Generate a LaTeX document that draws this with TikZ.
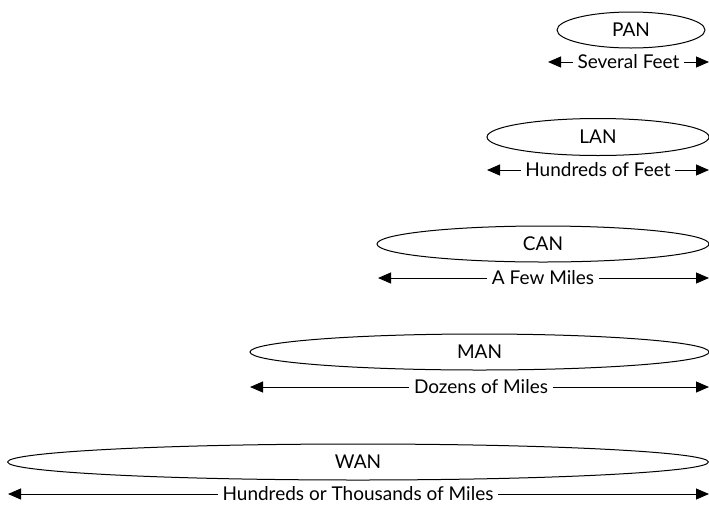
\documentclass[tikz,border=0pt]{standalone}
\usepackage{fontspec}
\setmainfont{Lato}
\usetikzlibrary{shapes.geometric,arrows.meta}
\begin{document}
\begin{tikzpicture}[x=1pt,y=-1pt,
  net/.style={draw,ellipse,line width=1pt,inner sep=0pt,font=\fontsize{19}{22}\selectfont},
  span/.style={inner xsep=4.5pt,inner ysep=2pt,font=\fontsize{19}{22}\selectfont},
  rng/.style={line width=1pt,-{Triangle[length=13pt,width=11pt]}}]
\useasboundingbox (0,0) rectangle (709,504);
% PAN
\node[net,minimum width=148,minimum height=36] (pan) at (631,30) {PAN};
\coordinate (panL) at (548,62); \coordinate (panR) at (709,62);
\node[span] (pant) at (628.5,62) {Several Feet};
\draw[rng] (pant) -- (panL); \draw[rng] (pant) -- (panR);
% LAN
\node[net,minimum width=222,minimum height=37] (lan) at (598,137) {LAN};
\coordinate (lanL) at (487,170); \coordinate (lanR) at (709,170);
\node[span] (lant) at (598,170) {Hundreds of Feet};
\draw[rng] (lant) -- (lanL); \draw[rng] (lant) -- (lanR);
% CAN
\node[net,minimum width=332,minimum height=36] (can) at (543,244) {CAN};
\coordinate (canL) at (378,278); \coordinate (canR) at (709,278);
\node[span] (cant) at (543,278) {A Few Miles};
\draw[rng] (cant) -- (canL); \draw[rng] (cant) -- (canR);
% MAN
\node[net,minimum width=459,minimum height=36] (man) at (479.5,352) {MAN};
\coordinate (manL) at (250,387); \coordinate (manR) at (709,387);
\node[span] (mant) at (481,387) {Dozens of Miles};
\draw[rng] (mant) -- (manL); \draw[rng] (mant) -- (manR);
% WAN
\node[net,minimum width=701,minimum height=36] (wan) at (358,462) {WAN};
\coordinate (wanL) at (8,494); \coordinate (wanR) at (709,494);
\node[span] (want) at (358,494) {Hundreds or Thousands of Miles};
\draw[rng] (want) -- (wanL); \draw[rng] (want) -- (wanR);
\end{tikzpicture}
\end{document}
